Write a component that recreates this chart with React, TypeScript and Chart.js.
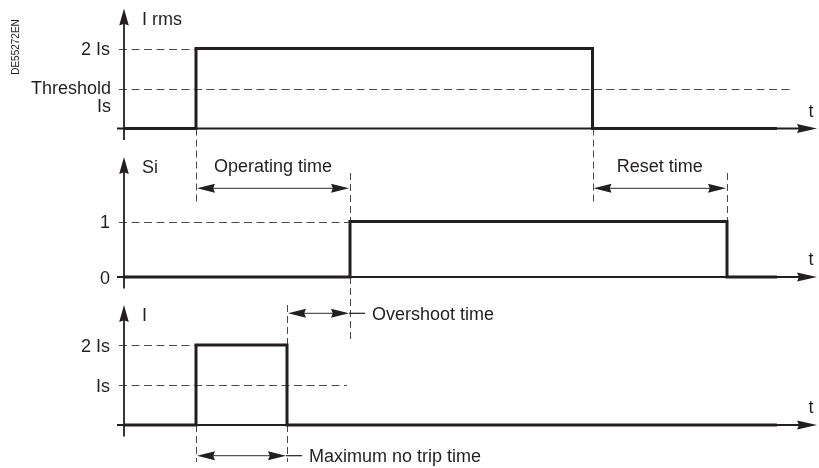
import React, { useEffect, useRef } from 'react';
import { Chart, registerables } from 'chart.js';

Chart.register(...registerables);

// ---------- data ----------
const timeAxisTitle = 't';
const panelTitles = ['I rms', 'Si', 'I'];

const irmsTimes = [0, 7.2, 7.2, 46.85, 46.85, 65.3];
const irmsValues = [0, 0, 2, 2, 0, 0];
const siTimes = [0, 22.6, 22.6, 60.3, 60.3, 65.3];
const siValues = [0, 0, 1, 1, 0, 0];
const iTimes = [0, 7.2, 7.2, 16.3, 16.3, 65.3];
const iValues = [0, 0, 2, 2, 0, 0];

const irmsTickValues = [2, 1];
const irmsTickLabels = [['2 Is'], ['Threshold', 'Is']];
const siTickValues = [1, 0];
const siTickLabels = [['1'], ['0']];
const iTickValues = [2, 1];
const iTickLabels = [['2 Is'], ['Is']];

const irmsRefEnds = [7.2, 66.9];
const siRefEnds = [22.6];
const iRefEnds = [7.2, 22.3];

const intervalNames = ['Operating time', 'Reset time', 'Overshoot time', 'Maximum no trip time'];
const intervalStarts = [7.2, 46.85, 16.3, 7.2];
const intervalEnds = [22.6, 60.3, 22.6, 16.3];

const docCode = 'DE55272EN';

// ---------- styles ----------
const INK = '#231f20';
const FONT = '"Liberation Sans", Arial, Helvetica, sans-serif';
const FS = 18;

function arrowHead(ctx: CanvasRenderingContext2D, tx: number, ty: number, dx: number, dy: number, len: number, half: number) {
  const bx = tx - dx * len;
  const by = ty - dy * len;
  const px = -dy;
  const py = dx;
  const nx = tx - dx * len * 0.9;
  const ny = ty - dy * len * 0.9;
  ctx.beginPath();
  ctx.moveTo(tx, ty);
  ctx.lineTo(bx + px * half, by + py * half);
  ctx.lineTo(nx, ny);
  ctx.lineTo(bx - px * half, by - py * half);
  ctx.closePath();
  ctx.fill();
}

const diagramPlugin = {
  id: 'diagram',
  beforeDatasetsDraw(chart: any) {
    const ctx: CanvasRenderingContext2D = chart.ctx;
    const xs = chart.scales.x;
    const X = (t: number) => xs.getPixelForValue(t);
    const y1 = chart.scales.y1;
    const y2 = chart.scales.y2;
    const y3 = chart.scales.y3;
    const yScales = [y1, y2, y3];
    const tickVals = [irmsTickValues, siTickValues, iTickValues];
    const refEnds = [irmsRefEnds, siRefEnds, iRefEnds];
    const x0 = X(0);

    ctx.save();
    // horizontal dashed reference lines
    ctx.strokeStyle = '#4a4a4a';
    ctx.lineWidth = 1;
    ctx.setLineDash([8, 4.5]);
    yScales.forEach((ys, p) => {
      refEnds[p].forEach((end, k) => {
        const v = tickVals[p][k];
        const yy = Math.round(ys.getPixelForValue(v)) + 0.5;
        ctx.beginPath();
        ctx.moveTo(x0 - 5, yy);
        ctx.lineTo(X(end), yy);
        ctx.stroke();
      });
    });

    // vertical dashed guides
    ctx.setLineDash([7, 4]);
    const guides: [number, number, number][] = [
      [intervalStarts[0], y1.getPixelForValue(0), 202],
      [intervalStarts[1], y1.getPixelForValue(0), 202],
      [intervalEnds[0], 173, y2.getPixelForValue(1)],
      [intervalEnds[0], y2.getPixelForValue(0), 342],
      [intervalEnds[1], 173, y2.getPixelForValue(1)],
      [intervalStarts[3], y3.getPixelForValue(0), 462],
      [intervalStarts[2], 305, y3.getPixelForValue(2)],
      [intervalStarts[2], y3.getPixelForValue(0), 462],
    ];
    guides.forEach(([t, a, b]) => {
      const xx = Math.round(X(t)) + 0.5;
      ctx.beginPath();
      ctx.moveTo(xx, a);
      ctx.lineTo(xx, b);
      ctx.stroke();
    });
    ctx.setLineDash([]);

    // axes
    ctx.strokeStyle = INK;
    ctx.fillStyle = INK;
    ctx.lineWidth = 1.8;
    const tipX = chart.chartArea.right - 2;
    yScales.forEach((ys) => {
      const base = ys.getPixelForValue(0);
      ctx.beginPath();
      ctx.moveTo(x0, base + 11.5);
      ctx.lineTo(x0, base - 105);
      ctx.stroke();
      arrowHead(ctx, x0, base - 120, 0, -1, 17, 4.8);
      ctx.beginPath();
      ctx.moveTo(x0 - 7, base);
      ctx.lineTo(tipX - 16, base);
      ctx.stroke();
      arrowHead(ctx, tipX, base, 1, 0, 20, 4.4);
    });
    ctx.restore();
  },
  afterDatasetsDraw(chart: any) {
    const ctx: CanvasRenderingContext2D = chart.ctx;
    const xs = chart.scales.x;
    const X = (t: number) => xs.getPixelForValue(t);
    const yScales = [chart.scales.y1, chart.scales.y2, chart.scales.y3];
    const tickVals = [irmsTickValues, siTickValues, iTickValues];
    const tickLabs = [irmsTickLabels, siTickLabels, iTickLabels];
    const x0 = X(0);
    const tipX = chart.chartArea.right - 2;

    ctx.save();
    ctx.fillStyle = INK;
    ctx.font = `${FS}px ${FONT}`;
    ctx.textBaseline = 'alphabetic';

    yScales.forEach((ys, p) => {
      const base = ys.getPixelForValue(0);
      ctx.textAlign = 'left';
      ctx.fillText(panelTitles[p], x0 + 18, base - 104);
      ctx.textAlign = 'center';
      ctx.fillText(timeAxisTitle, tipX - 6, base - 12);
      ctx.textAlign = 'right';
      tickVals[p].forEach((v, k) => {
        const yy = ys.getPixelForValue(v);
        const lines = tickLabs[p][k];
        if (lines.length === 1) {
          ctx.fillText(lines[0], x0 - 14, yy + 6.5);
        } else {
          lines.forEach((ln, j) => ctx.fillText(ln, x0 - 13, yy + 5.5 + j * 18));
        }
      });
    });

    // interval arrows
    const arrowYs = [188.3, 188.3, 313.3, 455.7];
    intervalNames.forEach((name, k) => {
      const a = X(intervalStarts[k]) + 1;
      const b = X(intervalEnds[k]) - 1;
      const yy = arrowYs[k];
      ctx.strokeStyle = '#555';
      ctx.lineWidth = 1.2;
      ctx.beginPath();
      ctx.moveTo(a + 10, yy);
      ctx.lineTo(b - 10, yy);
      ctx.stroke();
      ctx.fillStyle = INK;
      arrowHead(ctx, a, yy, -1, 0, 18, 4.5);
      arrowHead(ctx, b, yy, 1, 0, 18, 4.5);
      if (k < 2) {
        ctx.textAlign = 'center';
        ctx.fillText(name, (a + b) / 2, yy - 16);
      } else {
        ctx.strokeStyle = INK;
        ctx.lineWidth = 1.2;
        ctx.beginPath();
        ctx.moveTo(b, yy);
        ctx.lineTo(b + 16, yy);
        ctx.stroke();
        ctx.textAlign = 'left';
        ctx.fillText(name, b + 23, yy + 6.3);
      }
    });

    // document code
    ctx.save();
    ctx.translate(16, 47);
    ctx.rotate(-Math.PI / 2);
    ctx.font = `10px ${FONT}`;
    ctx.textAlign = 'center';
    ctx.textBaseline = 'middle';
    ctx.fillText(docCode, 0, 0);
    ctx.restore();

    ctx.restore();
  },
};

function signal(times: number[], values: number[], axis: string) {
  return {
    data: times.map((t, i) => ({ x: t, y: values[i] })),
    yAxisID: axis,
    borderColor: INK,
    borderWidth: 3,
    pointRadius: 0,
    fill: false,
    tension: 0,
    borderJoinStyle: 'miter' as const,
    borderCapStyle: 'butt' as const,
  };
}

export default function App() {
  const ref = useRef<HTMLCanvasElement>(null);
  useEffect(() => {
    if (!ref.current) return;
    const chart = new Chart(ref.current, {
      type: 'line',
      data: {
        datasets: [
          signal(irmsTimes, irmsValues, 'y1'),
          signal(siTimes, siValues, 'y2'),
          signal(iTimes, iValues, 'y3'),
        ],
      },
      options: {
        animation: false,
        responsive: false,
        maintainAspectRatio: false,
        events: [],
        layout: { padding: 0 },
        plugins: { legend: { display: false }, tooltip: { enabled: false } },
        scales: {
          x: { type: 'linear', min: -12.4, max: 69.5, display: false },
          y1: { type: 'linear', min: -8.4875, max: 3.2125, display: false },
          y2: { type: 'linear', min: -3.4414, max: 4.991, display: false },
          y3: { type: 'linear', min: -1.075, max: 10.625, display: false },
        },
      },
      plugins: [diagramPlugin],
    } as any);
    return () => chart.destroy();
  }, []);
  return (
    <div style={{ position: 'fixed', left: 0, top: 0, width: 819, height: 468, background: '#fff' }}>
      <canvas ref={ref} width={819} height={468} />
    </div>
  );
}
